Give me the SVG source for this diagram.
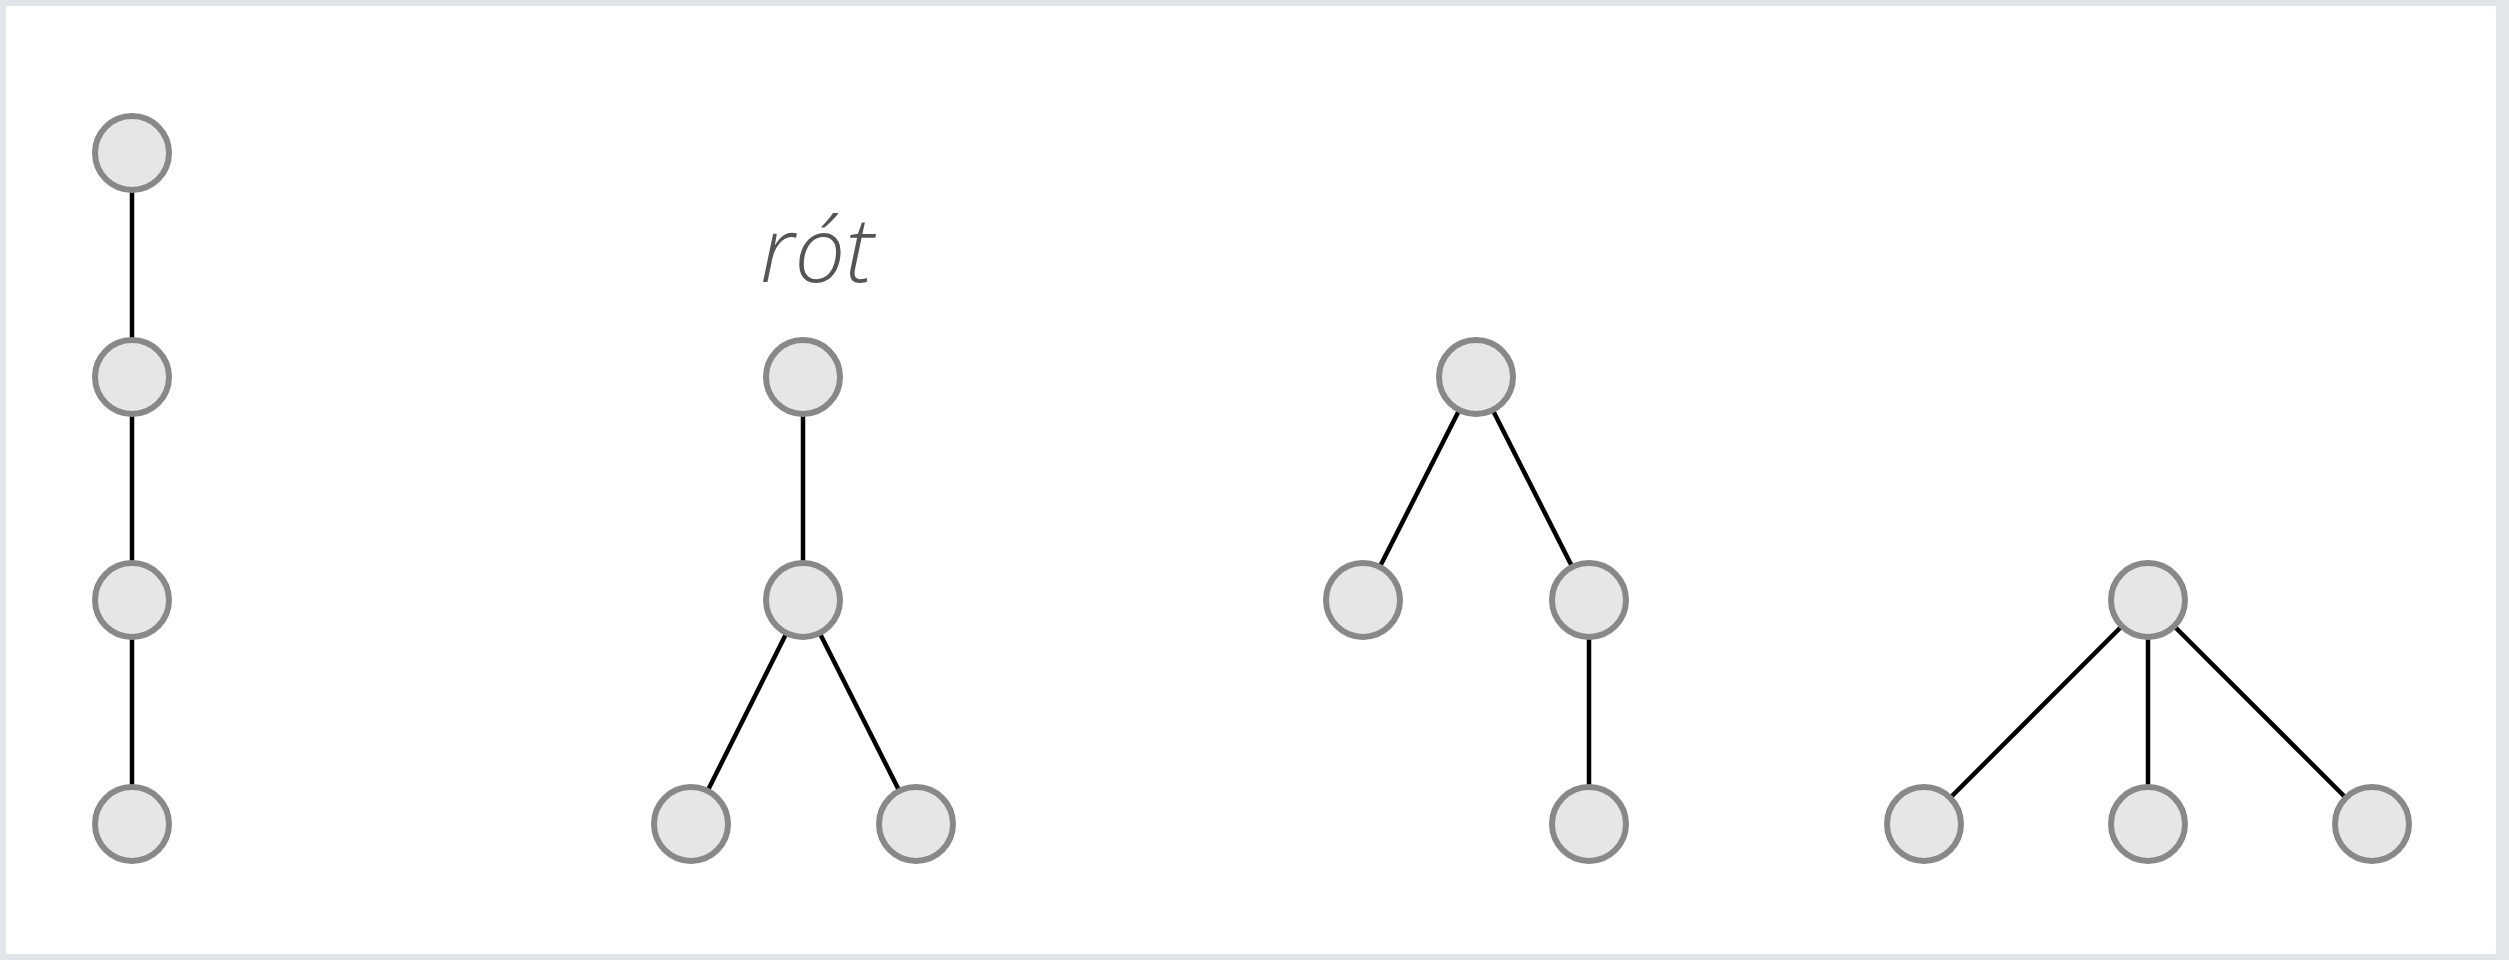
<svg xmlns="http://www.w3.org/2000/svg" width="2509" height="960" viewBox="0 0 2509 960">
<style>
.node{fill:#e6e6e6;stroke:#888888;stroke-width:6}
.edge{stroke:#000;stroke-width:4.5;fill:none}
.lbl{font-family:"Open Sans","Noto Sans",sans-serif;font-style:italic;font-weight:300;font-size:90px;fill:#555}
</style>
<rect x="0" y="0" width="2509" height="960" fill="#e2e5ea"/>
<rect x="6" y="6" width="2490" height="948" fill="#ffffff"/>
<g id="connectors">
<line class="edge" x1="132" y1="153" x2="132" y2="377"/>
<line class="edge" x1="132" y1="377" x2="132" y2="600"/>
<line class="edge" x1="132" y1="600" x2="132" y2="824"/>
<line class="edge" x1="803" y1="377" x2="803" y2="600"/>
<line class="edge" x1="803" y1="600" x2="691" y2="824"/>
<line class="edge" x1="803" y1="600" x2="916" y2="824"/>
<line class="edge" x1="1476" y1="377" x2="1363" y2="600"/>
<line class="edge" x1="1476" y1="377" x2="1589" y2="600"/>
<line class="edge" x1="1589" y1="600" x2="1589" y2="824"/>
<line class="edge" x1="2148" y1="600" x2="1924" y2="824"/>
<line class="edge" x1="2148" y1="600" x2="2148" y2="824"/>
<line class="edge" x1="2148" y1="600" x2="2372" y2="824"/>
</g>
<g id="a1"><circle class="node" cx="132" cy="153" r="37"/></g>
<g id="a2"><circle class="node" cx="132" cy="377" r="37"/></g>
<g id="a3"><circle class="node" cx="132" cy="600" r="37"/></g>
<g id="a4"><circle class="node" cx="132" cy="824" r="37"/></g>
<g id="label-rot"><text class="lbl" x="817" y="282" text-anchor="middle">rót</text></g>
<g id="b1"><circle class="node" cx="803" cy="377" r="37"/></g>
<g id="b2"><circle class="node" cx="803" cy="600" r="37"/></g>
<g id="b3"><circle class="node" cx="691" cy="824" r="37"/></g>
<g id="b4"><circle class="node" cx="916" cy="824" r="37"/></g>
<g id="c1"><circle class="node" cx="1476" cy="377" r="37"/></g>
<g id="c2"><circle class="node" cx="1363" cy="600" r="37"/></g>
<g id="c3"><circle class="node" cx="1589" cy="600" r="37"/></g>
<g id="c4"><circle class="node" cx="1589" cy="824" r="37"/></g>
<g id="d1"><circle class="node" cx="2148" cy="600" r="37"/></g>
<g id="d2"><circle class="node" cx="1924" cy="824" r="37"/></g>
<g id="d3"><circle class="node" cx="2148" cy="824" r="37"/></g>
<g id="d4"><circle class="node" cx="2372" cy="824" r="37"/></g>
</svg>
